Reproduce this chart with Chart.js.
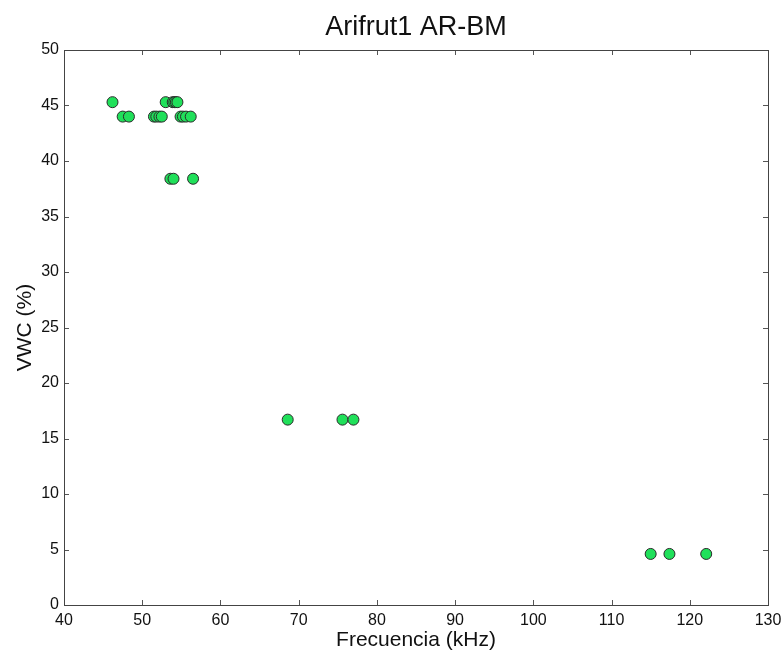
<!DOCTYPE html>
<html>
<head>
<meta charset="utf-8">
<script src="https://cdn.jsdelivr.net/npm/chart.js@4"></script>
<style>
  html, body { margin: 0; padding: 0; background: #fff; }
  #wrap { width: 783px; height: 653px; }
</style>
</head>
<body>
<div id="wrap"><canvas id="c"></canvas></div>
<script>
// frequency (kHz) and volumetric water content (%)
const freq = [
    46.2, 53.0, 53.9, 54.1, 54.3, 54.5,
    47.5, 48.3, 51.5, 51.8, 52.2, 52.5, 54.9, 55.2, 55.6, 56.2,
    53.6, 54.0, 56.5,
    68.6, 75.6, 77.0,
    115.0, 117.4, 122.1
];
const vwc = [
    45.3, 45.3, 45.3, 45.3, 45.3, 45.3,
    44.0, 44.0, 44.0, 44.0, 44.0, 44.0, 44.0, 44.0, 44.0, 44.0,
    38.4, 38.4, 38.4,
    16.7, 16.7, 16.7,
    4.6, 4.6, 4.6
];
const xTicks = [40, 50, 60, 70, 80, 90, 100, 110, 120, 130];
const yTicks = [0, 5, 10, 15, 20, 25, 30, 35, 40, 45, 50];

const points = freq.map((f, i) => ({ x: f, y: vwc[i] }));

// MATLAB-style inward ticks on all four sides of the box
const innerTicks = {
    id: 'innerTicks',
    afterDraw(chart) {
        const { ctx, chartArea: a, scales } = chart;
        const len = 5;
        ctx.save();
        ctx.strokeStyle = '#555';
        ctx.lineWidth = 1;
        ctx.beginPath();
        xTicks.forEach(v => {
            const px = Math.round(scales.x.getPixelForValue(v)) + 0.5;
            ctx.moveTo(px, a.bottom); ctx.lineTo(px, a.bottom - len);
            ctx.moveTo(px, a.top); ctx.lineTo(px, a.top + len);
        });
        yTicks.forEach(v => {
            const py = Math.round(scales.y.getPixelForValue(v)) + 0.5;
            ctx.moveTo(a.left, py); ctx.lineTo(a.left + len, py);
            ctx.moveTo(a.right, py); ctx.lineTo(a.right - len, py);
        });
        ctx.stroke();
        ctx.strokeStyle = '#444';
        ctx.strokeRect(a.left + 0.5, a.top + 0.5, a.right - a.left, a.bottom - a.top);
        ctx.restore();
    }
};

const fontFam = '"Liberation Sans", Arial, sans-serif';

new Chart(document.getElementById('c'), {
    type: 'scatter',
    data: {
        datasets: [{
            data: points,
            backgroundColor: '#20e05a',
            borderColor: '#2a2a2a',
            borderWidth: 1,
            pointRadius: 5.5,
            pointHoverRadius: 5.5
        }]
    },
    options: {
        responsive: true,
        maintainAspectRatio: false,
        animation: false,
        layout: { padding: { left: 0, right: 15, top: 0, bottom: 0 } },
        plugins: {
            legend: { display: false },
            tooltip: { enabled: false },
            title: {
                display: true,
                fullSize: false,
                text: 'Arifrut1 AR-BM',
                color: '#111',
                font: { family: fontFam, size: 27, weight: 'normal' },
                padding: { top: 11, bottom: 6.6 }
            }
        },
        scales: {
            x: {
                type: 'linear',
                min: 40,
                max: 130,
                afterBuildTicks: (s) => { s.ticks = xTicks.map(v => ({ value: v })); },
                afterFit: (s) => { s.height = 48; s.paddingLeft = 0; s.paddingRight = 0; },
                grid: { display: false, drawTicks: false },
                border: { display: false },
                ticks: {
                    color: '#111',
                    padding: 6,
                    maxRotation: 0,
                    font: { family: fontFam, size: 16 }
                },
                title: {
                    display: true,
                    text: 'Frecuencia (kHz)',
                    color: '#111',
                    font: { family: fontFam, size: 21 },
                    padding: { top: 0, bottom: 0 }
                }
            },
            y: {
                type: 'linear',
                min: 0,
                max: 50,
                afterBuildTicks: (s) => { s.ticks = yTicks.map(v => ({ value: v })); },
                afterFit: (s) => { s.width = 64; s.paddingTop = 0; s.paddingBottom = 0; },
                grid: { display: false, drawTicks: false },
                border: { display: false },
                ticks: {
                    color: '#111',
                    padding: 5,
                    font: { family: fontFam, size: 16 }
                },
                title: {
                    display: true,
                    text: 'VWC (%)',
                    color: '#111',
                    font: { family: fontFam, size: 21 },
                    padding: { top: 13, bottom: 0 }
                }
            }
        }
    },
    plugins: [innerTicks]
});
</script>
</body>
</html>
